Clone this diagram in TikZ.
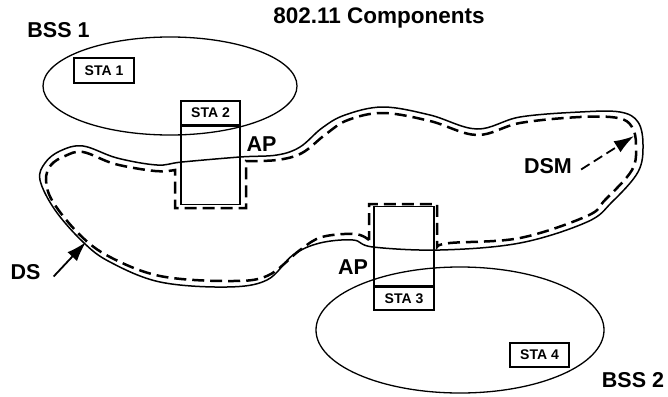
\documentclass[tikz,border=0pt]{standalone}
\usepackage{fontspec}
\setmainfont{Liberation Sans}
\usetikzlibrary{shapes.geometric,arrows.meta}
\begin{document}
\begin{tikzpicture}[x=1pt,y=-1pt,
  bigtxt/.style={font=\fontsize{21.5}{21.5}\selectfont\bfseries, inner sep=0pt},
  smalltxt/.style={font=\fontsize{14}{14}\selectfont\bfseries},
  stabox/.style={draw, line width=1.6pt, inner sep=0pt},
  bss/.style={draw, ellipse, line width=1.3pt, inner sep=0pt},
  dsline/.style={line width=1.5pt},
  dashline/.style={line width=2.5pt, dash pattern=on 12pt off 6pt},
  tip/.style={-{Latex[length=20pt,width=13pt]}, line width=1.8pt}]
\useasboundingbox (0,0) rectangle (668,396);
% title
\node[font=\fontsize{22.5}{22.5}\selectfont\bfseries, inner sep=0pt] (title) at (379,18) {802.11 Components};
% BSS ellipses
\node[bss, minimum width=254pt, minimum height=98pt] (bss1) at (170,86) {};
\node[bss, minimum width=288pt, minimum height=126pt] (bss2) at (460,330) {};
\node[bigtxt] (bss1l) at (58.5,30) {BSS 1};
\node[bigtxt] (bss2l) at (633,380) {BSS 2};
% DS solid outline
\draw[dsline] plot[smooth cycle, tension=0.6] coordinates {(40,180) (45,163) (60,151) (83,146) (117,158) (157,165) (182,162) (240,157) (277,155) (300,147) (322,128) (345,115) (383,107) (430,115) (477,129) (520,117) (580,112) (620,112) (638,122) (643,145) (638,172) (612,202) (587,222) (520,243) (440,250) (373,247) (353,240) (320,243) (293,255) (267,280) (227,287) (160,282) (110,262) (83,242) (55,210)};
% DSM dashed
\draw[dashline] plot[smooth, tension=0.6] coordinates {(369,240) (355,234) (322,237) (300,250) (267,276) (227,281) (160,276) (110,257) (80,235) (53,202) (46,180) (51,165) (65,156) (83,152) (115,164) (155,171) (175,170)} -- (175,208) -- (246,208) -- (246,161) -- plot[smooth, tension=0.6] coordinates {(246,161) (277,160) (302,153) (326,134) (348,120) (383,113) (430,121) (477,135) (520,123) (580,117) (618,118) (632,127) (636,145) (632,170) (605,200) (587,216) (520,238) (450,243) (437,247)} -- (437,204) -- (369,204) -- cycle;
% stations
\node[stabox, minimum width=60pt, minimum height=25pt, smalltxt] (sta1) at (104,70.5) {STA 1};
\node[stabox, minimum width=59pt, minimum height=24pt, smalltxt] (sta4) at (539.5,355) {STA 4};
\node[stabox, minimum width=59pt, minimum height=24pt, smalltxt] (sta2) at (210.5,113) {STA 2};
\node[stabox, minimum width=59pt, minimum height=78pt, anchor=north] (ap1) at (sta2.south) {};
\node[stabox, minimum width=60pt, minimum height=23pt, smalltxt] (sta3) at (404,298.5) {STA 3};
\node[stabox, minimum width=60pt, minimum height=79pt, anchor=south] (ap2) at (sta3.north) {};
% labels
\node[bigtxt] (apl1) at (261.5,144) {AP};
\node[bigtxt] (apl2) at (353,267.5) {AP};
\node[bigtxt] (dsm) at (548,166.5) {DSM};
\node[bigtxt] (ds) at (25.5,272.5) {DS};
% arrows
\coordinate (dsmtip) at (634,136);
\coordinate (dstip) at (86,242);
\draw[tip, dash pattern=on 10pt off 5pt] ([xshift=9pt,yshift=-3pt]dsm.east) -- (dsmtip);
\draw[tip] ([xshift=13pt,yshift=-4pt]ds.east) -- (dstip);
\end{tikzpicture}
\end{document}
